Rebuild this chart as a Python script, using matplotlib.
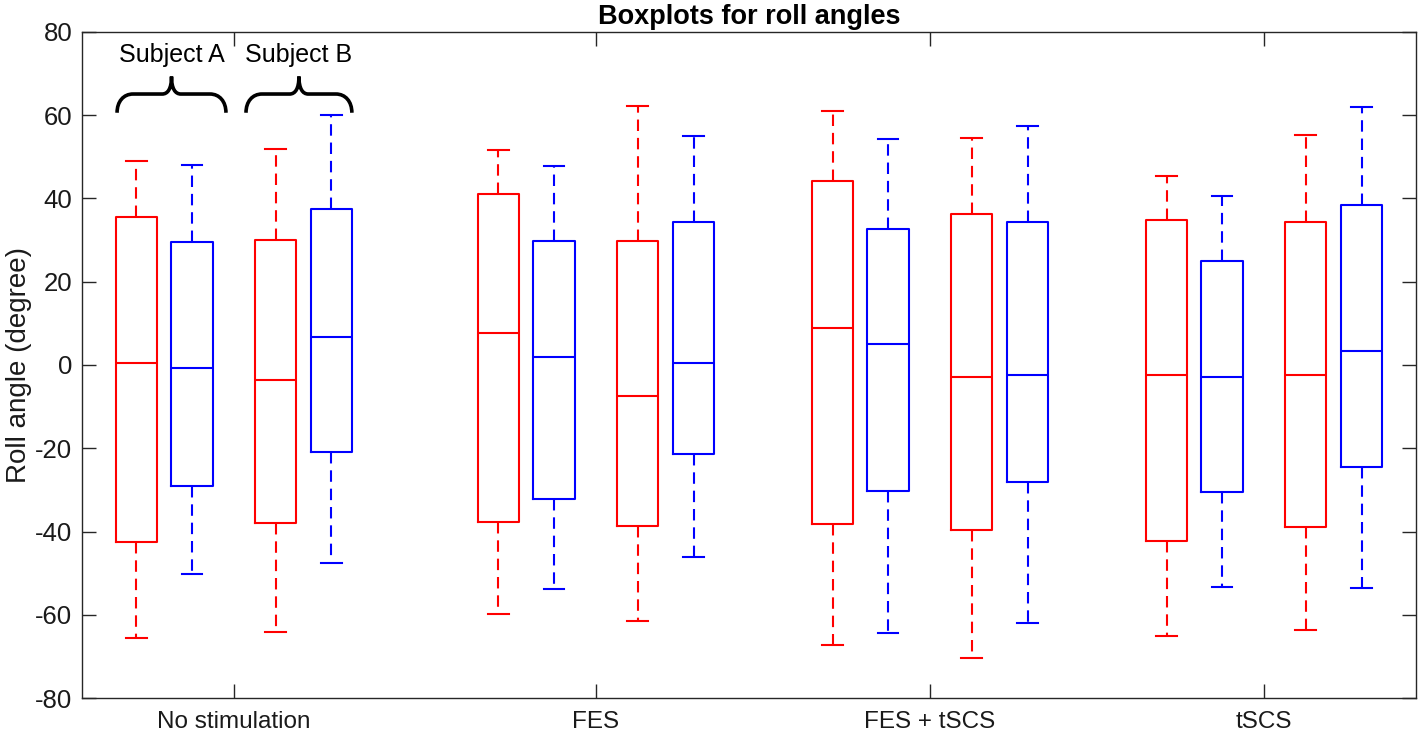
import matplotlib
matplotlib.use("Agg")
import matplotlib.pyplot as plt
from matplotlib.path import Path
from matplotlib.patches import PathPatch

plt.rcParams['font.family'] = ['Liberation Sans', 'DejaVu Sans']
plt.rcParams['axes.unicode_minus'] = False

# ---------------- data ----------------
conditions = ['No stimulation', 'FES', 'FES + tSCS', 'tSCS']
y_ticks = [-80, -60, -40, -20, 0, 20, 40, 60, 80]

# Subject A, red series
a_red_hi  = [49.0, 51.6, 61.1, 45.5]
a_red_q3  = [35.6, 41.1, 44.2, 34.9]
a_red_med = [0.5, 7.6, 8.9, -2.5]
a_red_q1  = [-42.5, -37.6, -38.1, -42.2]
a_red_lo  = [-65.7, -59.8, -67.3, -65.0]

# Subject A, blue series
a_blue_hi  = [48.1, 47.8, 54.2, 40.5]
a_blue_q3  = [29.6, 29.9, 32.6, 24.9]
a_blue_med = [-0.8, 1.9, 5.1, -2.8]
a_blue_q1  = [-29.0, -32.1, -30.3, -30.6]
a_blue_lo  = [-50.2, -53.8, -64.3, -53.3]

# Subject B, red series
b_red_hi  = [51.9, 62.3, 54.5, 55.2]
b_red_q3  = [30.0, 29.7, 36.2, 34.4]
b_red_med = [-3.5, -7.5, -3.0, -2.3]
b_red_q1  = [-38.0, -38.6, -39.7, -38.8]
b_red_lo  = [-64.2, -61.5, -70.5, -63.7]

# Subject B, blue series
b_blue_hi  = [60.0, 54.9, 57.5, 61.9]
b_blue_q3  = [37.4, 34.4, 34.4, 38.5]
b_blue_med = [6.8, 0.5, -2.5, 3.4]
b_blue_q1  = [-20.9, -21.5, -28.2, -24.6]
b_blue_lo  = [-47.6, -46.2, -62.1, -53.6]

subject_labels = ['Subject A', 'Subject B']

# ---------------- layout ----------------
group_centers = [1.0, 2.084, 3.084, 4.084]
offsets = [-0.292, -0.126, 0.125, 0.292]
box_w = 0.124
axis_col = '#262626'

series = [
    (a_red_lo, a_red_q1, a_red_med, a_red_q3, a_red_hi, 'red'),
    (a_blue_lo, a_blue_q1, a_blue_med, a_blue_q3, a_blue_hi, 'blue'),
    (b_red_lo, b_red_q1, b_red_med, b_red_q3, b_red_hi, 'red'),
    (b_blue_lo, b_blue_q1, b_blue_med, b_blue_q3, b_blue_hi, 'blue'),
]

fig = plt.figure(figsize=(14.18, 7.32), dpi=100)
ax = fig.add_axes([82/1418, 1 - 698/732, (1416 - 82)/1418, (698 - 32)/732])

for si, (lo, q1, med, q3, hi, col) in enumerate(series):
    stats = []
    pos = []
    for gi in range(len(conditions)):
        stats.append(dict(whislo=lo[gi], q1=q1[gi], med=med[gi], q3=q3[gi],
                          whishi=hi[gi], fliers=[]))
        pos.append(group_centers[gi] + offsets[si])
    ax.bxp(stats, positions=pos, widths=box_w, showfliers=False,
           manage_ticks=False,
           boxprops=dict(color=col, linewidth=1.5),
           medianprops=dict(color=col, linewidth=1.5),
           whiskerprops=dict(color=col, linewidth=1.5, linestyle=(0, (5.5, 3.3))),
           capprops=dict(color=col, linewidth=1.5))

# braces and subject labels
def brace(x0, x1, y_end, y_h, y_peak, ex=0.048, px=0.028):
    xm = 0.5 * (x0 + x1)
    verts = [
        (x0, y_end),
        (x0, y_end + 0.6 * (y_h - y_end)), (x0 + 0.4 * ex, y_h), (x0 + ex, y_h),
        (xm - px, y_h),
        (xm - 0.4 * px, y_h), (xm, y_h + 0.3 * (y_peak - y_h)), (xm, y_peak),
        (xm, y_h + 0.3 * (y_peak - y_h)), (xm + 0.4 * px, y_h), (xm + px, y_h),
        (x1 - ex, y_h),
        (x1 - 0.4 * ex, y_h), (x1, y_end + 0.6 * (y_h - y_end)), (x1, y_end),
    ]
    codes = [Path.MOVETO,
             Path.CURVE4, Path.CURVE4, Path.CURVE4,
             Path.LINETO,
             Path.CURVE4, Path.CURVE4, Path.CURVE4,
             Path.CURVE4, Path.CURVE4, Path.CURVE4,
             Path.LINETO,
             Path.CURVE4, Path.CURVE4, Path.CURVE4]
    ax.add_patch(PathPatch(Path(verts, codes), facecolor='none',
                           edgecolor='black', linewidth=2.6, capstyle='butt'))
    return xm

for (x0, x1), lab in zip([(0.650, 0.976), (1.036, 1.353)], subject_labels):
    xm = brace(x0, x1, 60.6, 65.1, 69.3)
    ax.text(xm, 72.8, lab, ha='center', va='baseline', fontsize=18, color='black')

ax.set_xlim(0.545, 4.539)
ax.set_ylim(-80, 80)
ax.set_xticks(group_centers)
ax.set_xticklabels(conditions)
ax.set_yticks(y_ticks)
ax.tick_params(direction='in', top=True, right=True, length=10, width=1.0,
               color=axis_col, labelcolor='#1a1a1a', labelsize=18.5)
ax.tick_params(axis='y', pad=7)
ax.tick_params(axis='x', pad=9, labelsize=17.5)
for sp in ax.spines.values():
    sp.set_color(axis_col)
    sp.set_linewidth(1.0)

ax.set_ylabel('Roll angle (degree)', fontsize=20, color='#1a1a1a', labelpad=2)
ax.set_title('Boxplots for roll angles', fontsize=19.5, fontweight='bold',
             color='black', pad=6)

fig.savefig('out.png', dpi=100)
